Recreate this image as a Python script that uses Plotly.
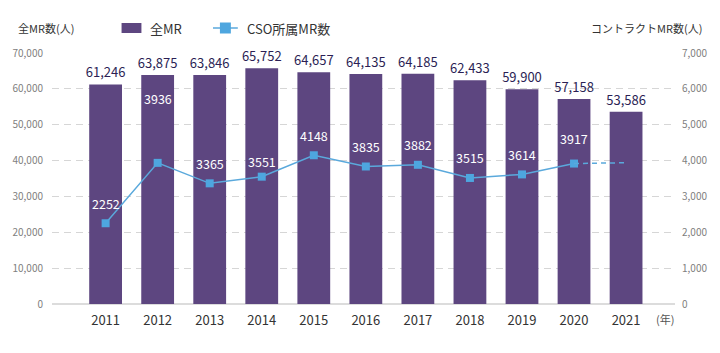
import plotly.graph_objects as go

years = ["2011", "2012", "2013", "2014", "2015", "2016", "2017", "2018", "2019", "2020", "2021"]
all_mr = [61246, 63875, 63846, 65752, 64657, 64135, 64185, 62433, 59900, 57158, 53586]
cso_years = ["2011", "2012", "2013", "2014", "2015", "2016", "2017", "2018", "2019", "2020"]
cso_mr = [2252, 3936, 3365, 3551, 4148, 3835, 3882, 3515, 3614, 3917]
cso_forecast_years = ["2020", "2021"]
cso_forecast = [3917, 3940]
left_ticks = [0, 10000, 20000, 30000, 40000, 50000, 60000, 70000]
right_ticks = [0, 1000, 2000, 3000, 4000, 5000, 6000, 7000]

FONT = "Noto Sans CJK JP"
BAR = "#5d4680"
LINE = "#5aa9dc"
MARK = "#4ea6df"

W, H = 720, 353
ml, mr, mt, mb = 48, 45, 53, 49
pw, ph = W - ml - mr, H - mt - mb


def px(xp):
    return (xp - ml) / pw


def py(yp):
    return (H - yp - mb) / ph


idx = {y: i for i, y in enumerate(years)}
# vertical offset (px) of each CSO label above its marker
label_shift = {"2012": 64, "2014": 15, "2020": 25}

fig = go.Figure()
fig.add_trace(go.Bar(
    x=[idx[y] for y in years], y=all_mr, name="全MR",
    marker=dict(color=BAR, line=dict(width=0)), width=0.63,
    text=[f"{v:,}" for v in all_mr], textposition="outside", constraintext="none",
    textfont=dict(color="#2c1f55", size=13, family=FONT),
    cliponaxis=False, showlegend=False,
))
fig.add_trace(go.Scatter(
    x=[idx[y] for y in cso_years], y=cso_mr, name="CSO所属MR数", yaxis="y2",
    mode="lines+markers", line=dict(color=LINE, width=1.5),
    marker=dict(symbol="square", size=8, color=MARK), showlegend=False,
))
fig.add_trace(go.Scatter(
    x=[idx[y] for y in cso_forecast_years], y=cso_forecast, yaxis="y2",
    mode="lines", line=dict(color=LINE, width=1.5, dash="5px,4px"),
    showlegend=False, hoverinfo="skip",
))
for y, v in zip(cso_years, cso_mr):
    fig.add_annotation(x=idx[y], y=v, xref="x", yref="y2", text=str(v),
                       showarrow=False, yshift=label_shift.get(y, 20),
                       font=dict(color="white", size=12.5, family=FONT))

# axis titles and unit
fig.add_annotation(x=px(12), y=py(28), xref="paper", yref="paper", text="全MR数(人)",
                   showarrow=False, xanchor="left", yanchor="middle",
                   font=dict(size=11, color="#333", family=FONT))
fig.add_annotation(x=px(704), y=py(28), xref="paper", yref="paper", text="コントラクトMR数(人)",
                   showarrow=False, xanchor="right", yanchor="middle",
                   font=dict(size=11, color="#333", family=FONT))
fig.add_annotation(x=px(654), y=py(319), xref="paper", yref="paper", text="(年)",
                   showarrow=False, xanchor="left", yanchor="middle",
                   font=dict(size=11, color="#555", family=FONT))

# legend (drawn)
fig.add_shape(type="rect", xref="paper", yref="paper", x0=px(118), x1=px(138),
              y0=py(33), y1=py(23), fillcolor=BAR, line=dict(width=0))
fig.add_annotation(x=px(145), y=py(28), xref="paper", yref="paper", text="全MR",
                   showarrow=False, xanchor="left", yanchor="middle",
                   font=dict(size=13, color="#333", family=FONT))
fig.add_shape(type="line", xref="paper", yref="paper", x0=px(210), x1=px(235),
              y0=py(28), y1=py(28), line=dict(color=LINE, width=1.5))
fig.add_shape(type="rect", xref="paper", yref="paper", x0=px(217), x1=px(228),
              y0=py(33.5), y1=py(22.5), fillcolor=MARK, line=dict(width=0))
fig.add_annotation(x=px(242), y=py(28), xref="paper", yref="paper", text="CSO所属MR数",
                   showarrow=False, xanchor="left", yanchor="middle",
                   font=dict(size=13, color="#333", family=FONT))

fig.update_layout(
    width=W, height=H,
    margin=dict(l=ml, r=mr, t=mt, b=mb),
    paper_bgcolor="white", plot_bgcolor="white",
    font=dict(family=FONT, color="#333"),
    showlegend=False,
    xaxis=dict(range=[-1.03, 10.94], tickmode="array", tickvals=list(range(len(years))),
               ticktext=years, showgrid=False, zeroline=False, showline=False,
               tickfont=dict(size=13, color="#333", family=FONT), ticks="",
               ticklabelstandoff=7),
    yaxis=dict(range=[0, 70000], tickvals=left_ticks, tickformat=",",
               showgrid=True, gridcolor="#d6d6d6", griddash="7px,5px", gridwidth=1,
               zeroline=True, zerolinecolor="#dcdcdc", zerolinewidth=2,
               showline=False, tickfont=dict(size=10, color="#808080", family=FONT),
               ticklabelstandoff=8),
    yaxis2=dict(range=[0, 7000], tickvals=right_ticks, tickformat=",", overlaying="y",
                side="right", showgrid=False, zeroline=False, showline=False,
                tickfont=dict(size=10, color="#808080", family=FONT), ticklabelstandoff=6),
)

fig.write_html("out.html")
